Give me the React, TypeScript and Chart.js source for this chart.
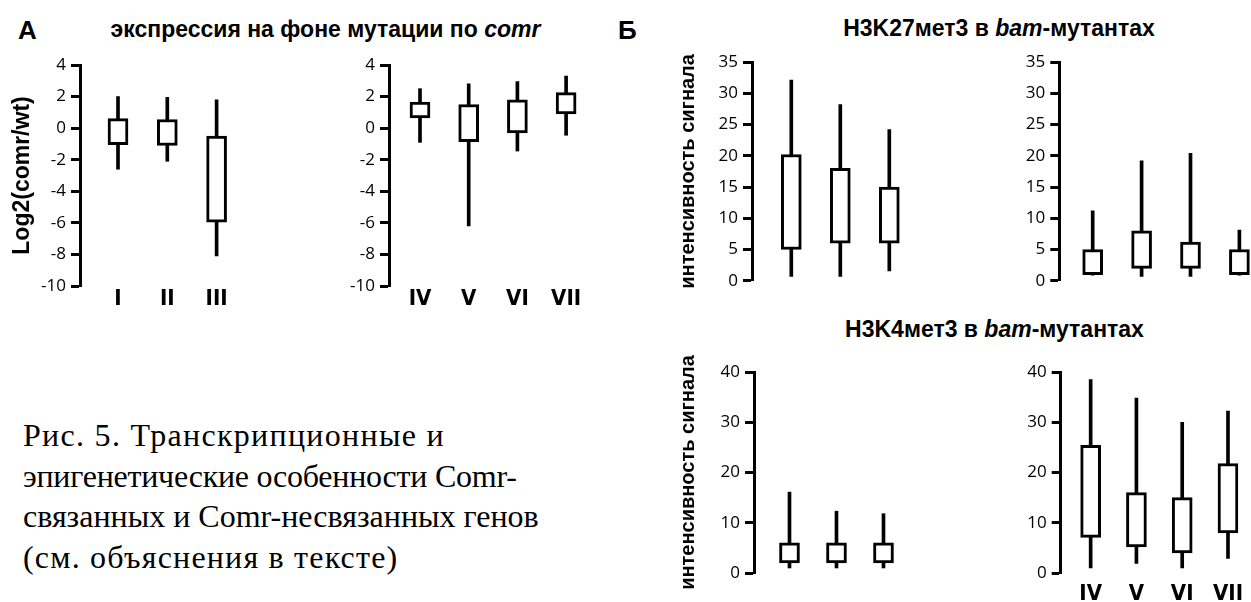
import React, { useEffect, useRef } from 'react';
import { Chart, registerables } from 'chart.js';

Chart.register(...registerables);

// ---------- DATA ----------
const groupsLeft = ['I', 'II', 'III'];
const groupsRight = ['IV', 'V', 'VI', 'VII'];

// Panel А: expression, log2(comr/wt)
const exprLeftMin = [-2.6, -2.1, -8.1];
const exprLeftQ1 = [-1.05, -1.1, -5.95];
const exprLeftQ3 = [0.6, 0.55, -0.5];
const exprLeftMax = [2.0, 1.95, 1.8];

const exprRightMin = [-0.9, -6.2, -1.45, -0.45];
const exprRightQ1 = [0.65, -0.85, -0.3, 0.9];
const exprRightQ3 = [1.65, 1.5, 1.8, 2.25];
const exprRightMax = [2.5, 2.8, 2.95, 3.3];

// Panel Б top: H3K27me3 in bam mutants
const k27LeftMin = [0.7, 0.7, 1.6];
const k27LeftQ1 = [5.0, 6.0, 6.0];
const k27LeftQ3 = [20.2, 18.0, 15.0];
const k27LeftMax = [32.1, 28.2, 24.2];

const k27RightMin = [0.9, 0.7, 0.7, 0.9];
const k27RightQ1 = [1.0, 2.0, 2.0, 1.0];
const k27RightQ3 = [5.0, 8.0, 6.2, 5.0];
const k27RightMax = [11.2, 19.2, 20.4, 8.1];

// Panel Б bottom: H3K4me3 in bam mutants
const k4LeftMin = [1.0, 1.0, 1.0];
const k4LeftQ1 = [2.0, 2.0, 2.0];
const k4LeftQ3 = [6.0, 6.0, 6.0];
const k4LeftMax = [16.1, 12.3, 11.8];

const k4RightMin = [1.0, 1.9, 1.0, 2.9];
const k4RightQ1 = [7.1, 5.2, 4.0, 8.0];
const k4RightQ3 = [25.4, 16.0, 15.0, 21.8];
const k4RightMax = [38.5, 34.8, 30.0, 32.2];

const exprTicks = { min: -10, max: 4, step: 2 };
const k27Ticks = { min: 0, max: 35, step: 5 };
const k4Ticks = { min: 0, max: 40, step: 10 };

const exprAxisTitle = 'Log2(comr/wt)';
const signalAxisTitle = 'интенсивность сигнала';

const captionLines = [
  'Рис. 5. Транскрипционные и',
  'эпигенетические особенности Comr-',
  'связанных и Comr-несвязанных генов',
  '(см. объяснения в тексте)',
];

// ---------- COMPONENT ----------
type PanelProps = {
  labels: string[];
  mins: number[];
  q1s: number[];
  q3s: number[];
  maxs: number[];
  yMin: number;
  yMax: number;
  yStep: number;
  showXLabels: boolean;
  yTitle?: string;
  yTitleSize?: number;
  yTitlePad?: number;
  left: number;
  top: number;
  width: number;
  height: number;
  axisWidth: number;
  padTop: number;
  xAxisHeight: number;
  xLabelPad: number;
  firstPx: number;
  spacingPx: number;
};

function BoxPanel(p: PanelProps) {
  const ref = useRef<HTMLCanvasElement | null>(null);
  useEffect(() => {
    if (!ref.current) return;
    const xs = p.labels.map((_, i) => i + 1);
    const plotW = p.width - p.axisWidth;
    const xMin = 1 - p.firstPx / p.spacingPx;
    const xMax = xMin + plotW / p.spacingPx;
    const chart = new Chart(ref.current, {
      type: 'bar',
      data: {
        datasets: [
          {
            label: 'box',
            data: xs.map((x, i) => ({ x, y: [p.q1s[i], p.q3s[i]] })) as any,
            backgroundColor: '#ffffff',
            borderColor: '#000000',
            borderWidth: 3,
            borderSkipped: false,
            barThickness: 20,
            grouped: false,
            order: 0,
          } as any,
          {
            label: 'whisker',
            data: xs.map((x, i) => ({ x, y: [p.mins[i], p.maxs[i]] })) as any,
            backgroundColor: '#000000',
            borderWidth: 0,
            barThickness: 3,
            grouped: false,
            order: 1,
          } as any,
        ],
      },
      options: {
        animation: false,
        responsive: false,
        maintainAspectRatio: false,
        events: [],
        layout: { padding: { top: p.padTop, left: 0, right: 0, bottom: 0 } },
        plugins: {
          legend: { display: false },
          tooltip: { enabled: false },
          title: { display: false },
        },
        scales: {
          x: {
            type: 'linear',
            min: xMin,
            max: xMax,
            offset: false,
            grid: { display: false, drawTicks: false },
            border: { display: false },
            ticks: {
              stepSize: 1,
              includeBounds: false,
              autoSkip: false,
              maxRotation: 0,
              padding: p.xLabelPad,
              color: '#000',
              font: {
                family: '"Liberation Sans Narrow", "DejaVu Sans Condensed", "Liberation Sans", Arial, sans-serif',
                size: 22,
                weight: 'bold',
              },
              callback: (v: any) => {
                const n = Number(v);
                if (!p.showXLabels) return '';
                return Number.isInteger(n) ? p.labels[n - 1] ?? '' : '';
              },
            },
            afterFit: (s: any) => {
              s.height = p.xAxisHeight;
            },
          } as any,
          y: {
            min: p.yMin,
            max: p.yMax,
            ticks: {
              stepSize: p.yStep,
              padding: 5,
              color: '#000',
              font: { family: '"Open Sans", "Noto Sans", sans-serif', size: 17 },
            },
            grid: {
              drawOnChartArea: false,
              drawTicks: true,
              tickLength: 9,
              tickWidth: 3,
              tickColor: '#000',
              color: '#000',
            },
            border: { display: true, color: '#000', width: 3 },
            title: p.yTitle
              ? {
                  display: true,
                  text: p.yTitle,
                  color: '#000',
                  font: { family: '"Liberation Sans", Arial, sans-serif', size: p.yTitleSize, weight: 'bold' },
                  padding: { top: p.yTitlePad, bottom: 0 },
                }
              : { display: false },
            afterFit: (s: any) => {
              s.width = p.axisWidth;
            },
          } as any,
        },
      },
    });
    return () => chart.destroy();
  }, []);
  return (
    <div style={{ position: 'absolute', left: p.left, top: p.top, width: p.width, height: p.height }}>
      <canvas ref={ref} width={p.width} height={p.height} style={{ display: 'block' }} />
    </div>
  );
}

const boldSans = '"Liberation Sans", Arial, sans-serif';

const titleStyle = (cx: number, top: number): React.CSSProperties => ({
  position: 'absolute',
  left: cx,
  top,
  transform: 'translateX(-50%)',
  whiteSpace: 'nowrap',
  font: `bold 23px/23px ${boldSans}`,
  color: '#000',
});

const captionLetterSpacing = [1.3, -0.25, 0, 1.2];

export default function App() {
  return (
    <div
      style={{
        position: 'fixed',
        left: 0,
        top: 0,
        width: 1251,
        height: 602,
        background: '#ffffff',
        overflow: 'hidden',
      }}
    >
      {/* panel letters */}
      <div style={{ position: 'absolute', left: 18, top: 16.6, font: `bold 26px/26px ${boldSans}`, color: '#000' }}>А</div>
      <div style={{ position: 'absolute', left: 618, top: 16.6, font: `bold 26px/26px ${boldSans}`, color: '#000' }}>Б</div>

      {/* panel titles */}
      <div style={titleStyle(325.5, 18)}>
        экспрессия на фоне мутации по <i>comr</i>
      </div>
      <div style={titleStyle(999, 17)}>
        H3K27мет3 в <i>bam</i>-мутантах
      </div>
      <div style={titleStyle(994.5, 317.5)}>
        H3K4мет3 в <i>bam</i>-мутантах
      </div>

      {/* Panel А */}
      <BoxPanel
        labels={groupsLeft}
        mins={exprLeftMin}
        q1s={exprLeftQ1}
        q3s={exprLeftQ3}
        maxs={exprLeftMax}
        yMin={exprTicks.min}
        yMax={exprTicks.max}
        yStep={exprTicks.step}
        showXLabels={true}
        yTitle={exprAxisTitle}
        yTitleSize={23}
        yTitlePad={9}
        left={0}
        top={45}
        width={250}
        height={271}
        axisWidth={80}
        padTop={20}
        xAxisHeight={30}
        xLabelPad={0}
        firstPx={38}
        spacingPx={49.3}
      />
      <BoxPanel
        labels={groupsRight}
        mins={exprRightMin}
        q1s={exprRightQ1}
        q3s={exprRightQ3}
        maxs={exprRightMax}
        yMin={exprTicks.min}
        yMax={exprTicks.max}
        yStep={exprTicks.step}
        showXLabels={true}
        left={329}
        top={45}
        width={271}
        height={271}
        axisWidth={60}
        padTop={20}
        xAxisHeight={30}
        xLabelPad={0}
        firstPx={31}
        spacingPx={48.7}
      />

      {/* Panel Б top */}
      <BoxPanel
        labels={groupsLeft}
        mins={k27LeftMin}
        q1s={k27LeftQ1}
        q3s={k27LeftQ3}
        maxs={k27LeftMax}
        yMin={k27Ticks.min}
        yMax={k27Ticks.max}
        yStep={k27Ticks.step}
        showXLabels={false}
        yTitle={signalAxisTitle}
        yTitleSize={20}
        yTitlePad={6}
        left={670}
        top={41.7}
        width={280}
        height={254}
        axisWidth={82}
        padTop={20}
        xAxisHeight={10}
        xLabelPad={0}
        firstPx={39.3}
        spacingPx={49}
      />
      <BoxPanel
        labels={groupsRight}
        mins={k27RightMin}
        q1s={k27RightQ1}
        q3s={k27RightQ3}
        maxs={k27RightMax}
        yMin={k27Ticks.min}
        yMax={k27Ticks.max}
        yStep={k27Ticks.step}
        showXLabels={false}
        left={1000}
        top={41.7}
        width={251}
        height={254}
        axisWidth={59.3}
        padTop={20}
        xAxisHeight={10}
        xLabelPad={0}
        firstPx={33.4}
        spacingPx={48.9}
      />

      {/* Panel Б bottom */}
      <BoxPanel
        labels={groupsLeft}
        mins={k4LeftMin}
        q1s={k4LeftQ1}
        q3s={k4LeftQ3}
        maxs={k4LeftMax}
        yMin={k4Ticks.min}
        yMax={k4Ticks.max}
        yStep={k4Ticks.step}
        showXLabels={true}
        yTitle={signalAxisTitle}
        yTitleSize={20}
        yTitlePad={6}
        left={670}
        top={351.7}
        width={280}
        height={251}
        axisWidth={84}
        padTop={20}
        xAxisHeight={30}
        xLabelPad={8}
        firstPx={37}
        spacingPx={49}
      />
      <BoxPanel
        labels={groupsRight}
        mins={k4RightMin}
        q1s={k4RightQ1}
        q3s={k4RightQ3}
        maxs={k4RightMax}
        yMin={k4Ticks.min}
        yMax={k4Ticks.max}
        yStep={k4Ticks.step}
        showXLabels={true}
        left={1000}
        top={351.7}
        width={251}
        height={251}
        axisWidth={60.7}
        padTop={20}
        xAxisHeight={30}
        xLabelPad={8}
        firstPx={32}
        spacingPx={48.9}
      />

      {/* caption */}
      <div
        style={{
          position: 'absolute',
          left: 23,
          top: 415,
          font: '32px/40.5px "Liberation Serif", "Times New Roman", serif',
          color: '#000',
          whiteSpace: 'nowrap',
        }}
      >
        {captionLines.map((line, i) => (
          <div key={i} style={{ letterSpacing: captionLetterSpacing[i] }}>
            {line}
          </div>
        ))}
      </div>
    </div>
  );
}
